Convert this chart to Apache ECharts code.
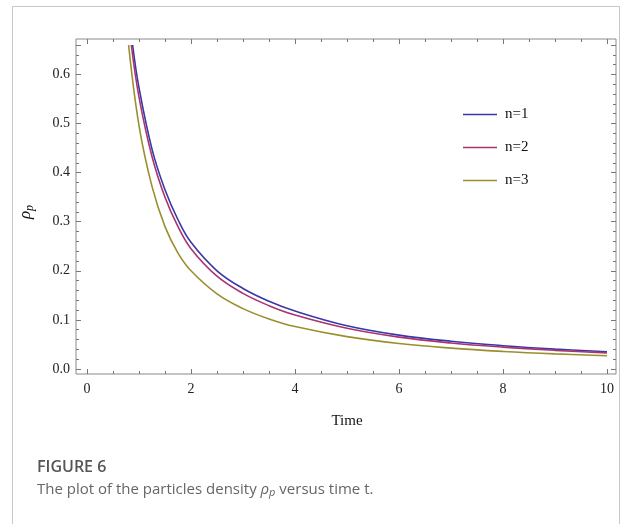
<!DOCTYPE html>
<html>
<head>
<meta charset="utf-8">
<script src="https://cdn.jsdelivr.net/npm/echarts@6/dist/echarts.min.js"></script>
<style>
html,body{margin:0;padding:0;background:#fff;}
#chart{width:625px;height:524px;}
</style>
</head>
<body>
<div id="chart"></div>
<script>
// ---- data ----
const seriesNames = ['n=1', 'n=2', 'n=3'];
const time1 = [0.877, 1.0, 1.25, 1.5, 1.75, 2, 2.5, 3, 3.5, 4, 5, 6, 7, 8, 9, 10];
const density1 = [0.66, 0.573, 0.448, 0.365, 0.304, 0.258, 0.2, 0.164, 0.138, 0.118, 0.088, 0.069, 0.0565, 0.0475, 0.0405, 0.035];
const time2 = [0.852, 1.0, 1.25, 1.5, 1.75, 2, 2.5, 3, 3.5, 4, 5, 6, 7, 8, 9, 10];
const density2 = [0.66, 0.554, 0.433, 0.35, 0.29, 0.245, 0.189, 0.154, 0.129, 0.11, 0.083, 0.065, 0.053, 0.0445, 0.038, 0.0328];
const time3 = [0.80, 1.0, 1.25, 1.5, 1.75, 2, 2.5, 3, 3.5, 4, 5, 6, 7, 8, 9, 10];
const density3 = [0.66, 0.496, 0.372, 0.29, 0.236, 0.2, 0.153, 0.123, 0.102, 0.0865, 0.066, 0.0518, 0.0425, 0.0358, 0.0308, 0.027];
const xTickLabels = ['0', '2', '4', '6', '8', '10'];
const yTickLabels = ['0.0', '0.1', '0.2', '0.3', '0.4', '0.5', '0.6'];

const colors = ['#3838A8', '#A8356F', '#9A8F2E'];
const serif = 'Liberation Serif';
const pairs = (xs, ys) => xs.map((x, i) => [x, ys[i]]);

const chart = echarts.init(document.getElementById('chart'), null, {renderer: 'canvas'});

const tickStyle = {color: '#777', width: 1};
const xTickAxis = (pos, offset, showLabel, extra) => Object.assign({
  type: 'value', gridIndex: 0, position: pos, offset: offset,
  min: 0, max: 10, interval: 2,
  axisLine: {show: false, onZero: false},
  axisTick: {show: true, inside: true, length: 5, lineStyle: tickStyle},
  minorTick: {show: true, splitNumber: 4, length: 3, lineStyle: tickStyle},
  splitLine: {show: false},
  axisLabel: {show: showLabel, margin: 8, color: '#222', fontFamily: serif, fontSize: 14,
    formatter: v => { const i = Math.round(v / 2); return (Math.abs(v - i * 2) < 1e-9 && xTickLabels[i] !== undefined) ? xTickLabels[i] : ''; }}
}, extra || {});
const yTickAxis = (pos, offset, showLabel, extra) => Object.assign({
  type: 'value', gridIndex: 0, position: pos, offset: offset,
  min: 0, max: 0.66, interval: 0.1,
  axisLine: {show: false, onZero: false},
  axisTick: {show: true, inside: true, length: 5, lineStyle: tickStyle},
  minorTick: {show: true, splitNumber: 5, length: 3, lineStyle: tickStyle},
  splitLine: {show: false},
  axisLabel: {show: showLabel, margin: 6, color: '#222', fontFamily: serif, fontSize: 14, showMaxLabel: false,
    formatter: v => { const i = Math.round(v * 10); return (Math.abs(v - i / 10) < 1e-9 && yTickLabels[i] !== undefined) ? yTickLabels[i] : ''; }}
}, extra || {});

const option = {
  animation: false,
  backgroundColor: '#fff',
  color: colors,
  grid: [
    {left: 87, right: 18, top: 45, bottom: 155, containLabel: false},
    {left: 76, right: 9, top: 39, bottom: 150, show: true, borderColor: '#8a8a8a', borderWidth: 1, backgroundColor: 'transparent'}
  ],
  xAxis: [
    xTickAxis('bottom', 5, true, {
      name: 'Time', nameLocation: 'middle', nameGap: 40,
      nameTextStyle: {fontFamily: serif, fontSize: 15, color: '#111'}
    }),
    xTickAxis('top', 6, false),
    {type: 'value', gridIndex: 1, min: -0.2, max: 10.2, show: false}
  ],
  yAxis: [
    yTickAxis('left', 11, true, {
      name: '{a|ρ}{b|p}', nameLocation: 'middle', nameGap: 40, nameRotate: 90,
      nameTextStyle: {
        padding: [0, 10, 0, 0],
        rich: {
          a: {fontFamily: serif, fontStyle: 'italic', fontSize: 17, color: '#111'},
          b: {fontFamily: serif, fontStyle: 'italic', fontSize: 12, color: '#111', padding: [9, 0, 0, 0]}
        }
      }
    }),
    yTickAxis('right', 9, false),
    {type: 'value', gridIndex: 1, min: -0.0096, max: 0.671, show: false}
  ],
  legend: {
    orient: 'vertical', left: 463, top: 107, itemGap: 18, padding: 0,
    itemWidth: 34, itemHeight: 1.6, icon: 'rect',
    textStyle: {fontFamily: serif, fontSize: 15, color: '#111', padding: [0, 0, 0, 3]},
    data: seriesNames
  },
  series: [
    {name: seriesNames[0], type: 'line', xAxisIndex: 0, yAxisIndex: 0, data: pairs(time1, density1), smooth: 0.4, symbol: 'none', lineStyle: {width: 1.6}},
    {name: seriesNames[1], type: 'line', xAxisIndex: 0, yAxisIndex: 0, data: pairs(time2, density2), smooth: 0.4, symbol: 'none', lineStyle: {width: 1.6}},
    {name: seriesNames[2], type: 'line', xAxisIndex: 0, yAxisIndex: 0, data: pairs(time3, density3), smooth: 0.4, symbol: 'none', lineStyle: {width: 1.6}}
  ],
  graphic: [
    {type: 'polyline', shape: {points: [[12.5, 530], [12.5, 6.5], [619.5, 6.5], [619.5, 530]]}, style: {stroke: '#c8c8c8', lineWidth: 1, fill: null}, silent: true},
    {type: 'text', left: 37, top: 459, style: {text: 'FIGURE 6', font: '600 16px "Open Sans"', fill: '#555'}},
    {type: 'text', left: 37, top: 482, style: {
      text: 'The plot of the particles density {r|ρ}{s|p} versus time t.',
      font: '15px "Open Sans"', fill: '#666',
      rich: {
        r: {fontFamily: 'Open Sans', fontStyle: 'italic', fontSize: 15, fill: '#666'},
        s: {fontFamily: 'Open Sans', fontStyle: 'italic', fontSize: 11, fill: '#666', padding: [7, 0, 0, 0]}
      }
    }}
  ]
};
chart.setOption(option);
</script>
</body>
</html>
